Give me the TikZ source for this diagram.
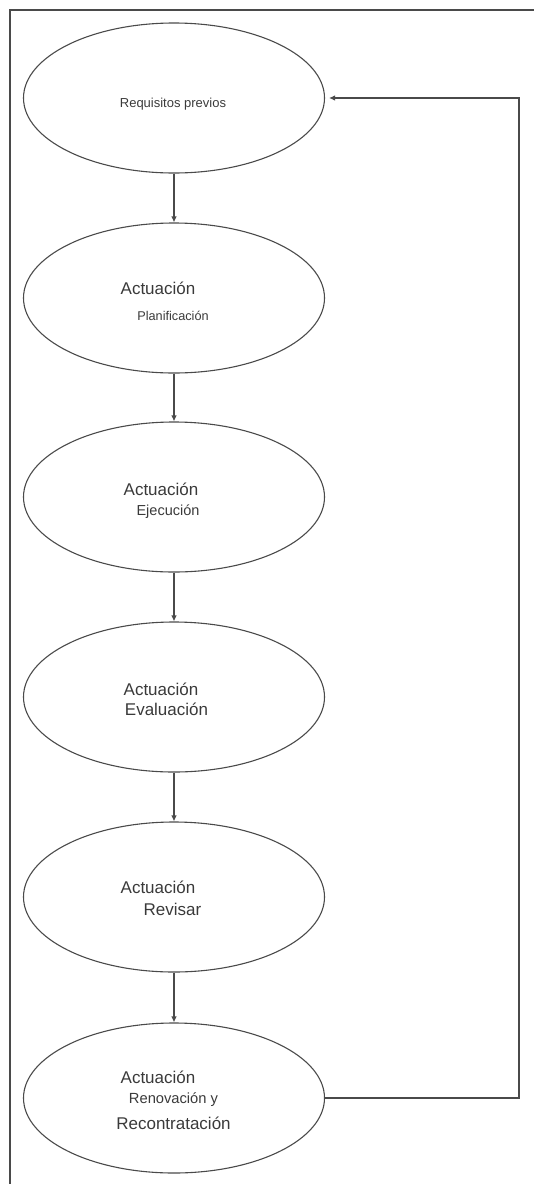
\documentclass[tikz,border=0pt]{standalone}
\usepackage{fontspec}
\setmainfont{Liberation Sans}
\usetikzlibrary{shapes.geometric,arrows.meta}
\definecolor{linegray}{HTML}{4A4A4A}
\definecolor{textgray}{HTML}{3A3A3A}
\tikzset{
  stage/.style={draw=linegray, line width=1.1pt, ellipse, minimum width=301pt, minimum height=150pt, inner sep=0pt},
  flow/.style={draw=linegray, line width=1.1pt, -{Latex[length=6pt,width=5.5pt]}},
  big/.style={text=textgray, inner sep=0pt, font=\fontsize{17}{19}\selectfont},
  small/.style={text=textgray, inner sep=0pt, font=\fontsize{13}{15}\selectfont}
}
\begin{document}
\begin{tikzpicture}[x=1pt,y=-1pt]
\useasboundingbox (0,0) rectangle (534,1184);
% outer frame
\draw[linegray, line width=1.1pt] (10,1184) -- (10,10) -- (534,10);

% stages
\node[stage] (e1) at (174,98) {};
\node[stage] (e2) at (174,298) {};
\node[stage] (e3) at (174,497) {};
\node[stage] (e4) at (174,697) {};
\node[stage] (e5) at (174,897) {};
\node[stage] (e6) at (174,1098) {};

% labels
\node[small] (t1) at (173,104) {Requisitos previos};
\node[big] (t2a) at (158,288) {Actuación};
\node[small, font=\fontsize{12.7}{15}\selectfont] (t2b) at (173,316) {Planificación};
\node[big] (t3a) at (161,489) {Actuación};
\node[small, font=\fontsize{14.5}{16}\selectfont] (t3b) at (168,512) {Ejecución};
\node[big] (t4a) at (161,689) {Actuación};
\node[big] (t4b) at (166.5,709) {Evaluación};
\node[big] (t5a) at (158,887) {Actuación};
\node[big] (t5b) at (172.5,909) {Revisar};
\node[big] (t6a) at (158,1077) {Actuación};
\node[small, font=\fontsize{14.7}{16}\selectfont] (t6b) at (173.5,1100) {Renovación y};
\node[big] (t6c) at (173.5,1123) {Recontratación};

% sequence
\draw[flow] (e1) -- (e2);
\draw[flow] (e2) -- (e3);
\draw[flow] (e3) -- (e4);
\draw[flow] (e4) -- (e5);
\draw[flow] (e5) -- (e6);

% feedback loop
\coordinate (fb1) at (519,1098);
\coordinate (fb2) at (519,98);
\draw[flow] (e6.east) -- (fb1) -- (fb2) -- ([xshift=4pt]e1.east);
\end{tikzpicture}
\end{document}
